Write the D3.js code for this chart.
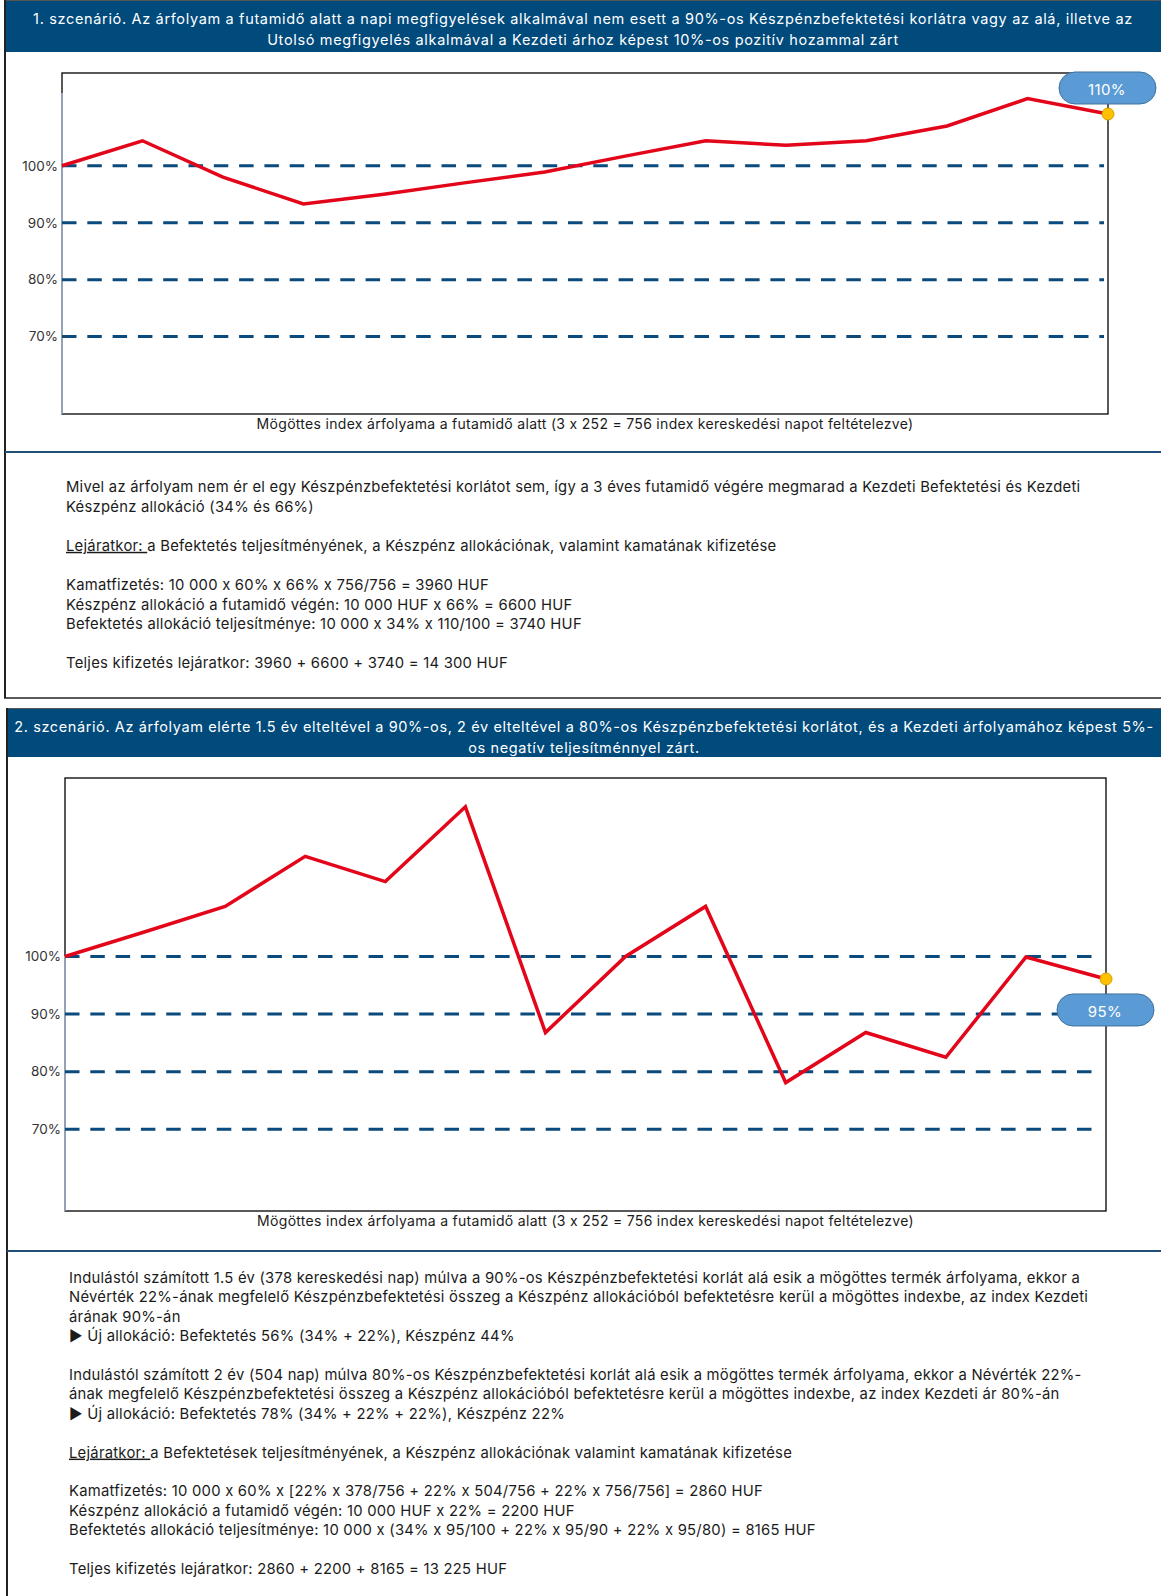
<!DOCTYPE html>
<html>
<head>
<meta charset="utf-8">
<script src="https://cdn.jsdelivr.net/npm/d3@7"></script>
<style>
  body { margin: 0; background: #fff; }
  svg text { font-family: Inter, "Noto Sans", "DejaVu Sans", sans-serif; font-feature-settings: "calt" 0; }
</style>
</head>
<body>
<div id="chart"></div>
<script>
// observation points (13 equal steps across 756 trading days)
var observations = [0, 1, 2, 3, 4, 5, 6, 7, 8, 9, 10, 11, 12, 13];
var barrierTicks = [70, 80, 90, 100];

// index level, % of initial price
var scenario1 = [100, 104.4, 98.0, 93.3, 95.0, 97.0, 98.9, 101.7, 104.4, 103.6, 104.4, 107.0, 111.8, 109.1];
var scenario2 = [100, 104.3, 108.7, 117.4, 113.0, 126.0, 86.8, 100.0, 108.7, 78.1, 86.8, 82.5, 99.9, 96.1];
var finalLabels = ["110%", "95%"];

var xTitle = "Mögöttes index árfolyama a futamidő alatt (3 x 252 = 756 index kereskedési napot feltételezve)";

var header1 = [
  "1. szcenárió. Az árfolyam a futamidő alatt a napi megfigyelések alkalmával nem esett a 90%-os Készpénzbefektetési korlátra vagy az alá, illetve az",
  "Utolsó megfigyelés alkalmával a Kezdeti árhoz képest 10%-os pozitív hozammal zárt"
];
var header2 = [
  "2. szcenárió. Az árfolyam elérte 1.5 év elteltével a 90%-os, 2 év elteltével a 80%-os Készpénzbefektetési korlátot, és a Kezdeti árfolyamához képest 5%-",
  "os negatív teljesítménnyel zárt."
];

// "_u_" marks an underlined lead-in
var body1 = [
  "Mivel az árfolyam nem ér el egy Készpénzbefektetési korlátot sem, így a 3 éves futamidő végére megmarad a Kezdeti Befektetési és Kezdeti",
  "Készpénz allokáció (34% és 66%)",
  "",
  "_u_Lejáratkor: |a Befektetés teljesítményének, a Készpénz allokációnak, valamint kamatának kifizetése",
  "",
  "Kamatfizetés: 10 000 x 60% x 66% x 756/756 = 3960 HUF",
  "Készpénz allokáció a futamidő végén: 10 000 HUF x 66% = 6600 HUF",
  "Befektetés allokáció teljesítménye: 10 000 x 34% x 110/100 = 3740 HUF",
  "",
  "Teljes kifizetés lejáratkor: 3960 + 6600 + 3740 = 14 300 HUF"
];
var body2 = [
  "Indulástól számított 1.5 év (378 kereskedési nap) múlva a 90%-os Készpénzbefektetési korlát alá esik a mögöttes termék árfolyama, ekkor a",
  "Névérték 22%-ának megfelelő Készpénzbefektetési összeg a Készpénz allokációból befektetésre kerül a mögöttes indexbe, az index Kezdeti",
  "árának 90%-án",
  "▶ Új allokáció: Befektetés 56% (34% + 22%), Készpénz 44%",
  "",
  "Indulástól számított 2 év (504 nap) múlva 80%-os Készpénzbefektetési korlát alá esik a mögöttes termék árfolyama, ekkor a Névérték 22%-",
  "ának megfelelő Készpénzbefektetési összeg a Készpénz allokációból befektetésre kerül a mögöttes indexbe, az index Kezdeti ár 80%-án",
  "▶ Új allokáció: Befektetés 78% (34% + 22% + 22%), Készpénz 22%",
  "",
  "_u_Lejáratkor: |a Befektetések teljesítményének, a Készpénz allokációnak valamint kamatának kifizetése",
  "",
  "Kamatfizetés: 10 000 x 60% x [22% x 378/756 + 22% x 504/756 + 22% x 756/756] = 2860 HUF",
  "Készpénz allokáció a futamidő végén: 10 000 HUF x 22% = 2200 HUF",
  "Befektetés allokáció teljesítménye: 10 000 x (34% x 95/100 + 22% x 95/90 + 22% x 95/80) = 8165 HUF",
  "",
  "Teljes kifizetés lejáratkor: 2860 + 2200 + 8165 = 13 225 HUF"
];

var navy = "#014a7c";

var svg = d3.select("#chart").append("svg")
    .attr("width", 1161)
    .attr("height", 1596);

// ---------- panel frames ----------
function panel(top, bottom, left, headH, sepY, lines, spacing) {
  svg.append("rect")
    .attr("x", left + 1).attr("y", top)
    .attr("width", 1161 - left).attr("height", headH)
    .attr("fill", navy);
  svg.append("line")
    .attr("x1", left).attr("x2", 1161).attr("y1", top - 0.5).attr("y2", top - 0.5)
    .attr("stroke", "#555").attr("stroke-width", 1);
  svg.append("line")
    .attr("x1", left).attr("x2", left).attr("y1", top - 1).attr("y2", bottom)
    .attr("stroke", "#222").attr("stroke-width", 2);
  svg.append("line")
    .attr("x1", left).attr("x2", 1161).attr("y1", sepY).attr("y2", sepY)
    .attr("stroke", "#1f4e79").attr("stroke-width", 2);
  svg.append("g").selectAll("text")
    .data(lines)
    .enter()
    .append("text")
    .attr("x", (left + 1161) / 2)
    .attr("y", function(d, i) { return top + 23 + i * 20.5; })
    .attr("text-anchor", "middle")
    .attr("fill", "#fff")
    .attr("font-size", 14.5)
    .attr("letter-spacing", spacing)
    .text(function(d) { return d; });
}

panel(1, 698, 5, 51, 452, header1, 0.66);
svg.append("line")
  .attr("x1", 4).attr("x2", 1161).attr("y1", 698).attr("y2", 698)
  .attr("stroke", "#222").attr("stroke-width", 1.5);
panel(709, 1596, 7, 48, 1251, header2, 0.6);

// ---------- body text ----------
function bodyText(x, y0, step, lines) {
  var t = svg.append("g").selectAll("text")
    .data(lines)
    .enter()
    .append("text")
    .attr("x", x)
    .attr("y", function(d, i) { return y0 + i * step; })
    .attr("fill", "#1b1b1b")
    .attr("font-size", 14.8)
    .attr("letter-spacing", 0.25);
  t.each(function(d) {
    var el = d3.select(this);
    if (d.indexOf("_u_") === 0) {
      var parts = d.slice(3).split("|");
      el.append("tspan").attr("text-decoration", "underline").text(parts[0]);
      el.append("tspan").text(parts[1]);
    } else {
      el.text(d);
    }
  });
}

bodyText(66, 492, 19.6, body1);
bodyText(69, 1283, 19.4, body2);

// ---------- charts ----------
function drawChart(cfg) {
  var x = d3.scaleLinear()
    .domain([observations[0], observations[observations.length - 1]])
    .range([cfg.left, cfg.right]);
  var y = d3.scaleLinear()
    .domain(cfg.domain)
    .range([cfg.bottom, cfg.top]);

  var g = svg.append("g");

  // frame
  g.append("rect")
    .attr("x", cfg.left).attr("y", cfg.top)
    .attr("width", cfg.right - cfg.left).attr("height", cfg.bottom - cfg.top)
    .attr("fill", "none").attr("stroke", "#000").attr("stroke-width", 1.3);
  g.append("line")
    .attr("x1", cfg.left).attr("x2", cfg.left)
    .attr("y1", cfg.top + cfg.blackLeft).attr("y2", cfg.bottom)
    .attr("stroke", "#a9bdd3").attr("stroke-width", 1.5);

  // y axis labels
  var axis = d3.axisLeft(y)
    .tickValues(barrierTicks)
    .tickSize(0)
    .tickPadding(4)
    .tickFormat(function(d) { return d + "%"; });
  var ag = g.append("g")
    .attr("transform", "translate(" + cfg.left + ",0)")
    .call(axis);
  ag.select(".domain").remove();
  ag.selectAll("text")
    .attr("font-size", 13.5)
    .attr("fill", "#333")
    .style("font-family", "Inter, sans-serif");

  // barrier lines
  g.selectAll(".barrier")
    .data(barrierTicks)
    .enter()
    .append("line")
    .attr("class", "barrier")
    .attr("x1", cfg.left)
    .attr("x2", cfg.right - 4)
    .attr("y1", function(d) { return y(d); })
    .attr("y2", function(d) { return y(d); })
    .attr("stroke", "#0b4a7d")
    .attr("stroke-width", 3)
    .attr("stroke-dasharray", "14.5,10.8");

  // index path
  var line = d3.line()
    .x(function(d, i) { return x(observations[i]); })
    .y(function(d) { return y(d); });
  g.append("path")
    .datum(cfg.data)
    .attr("fill", "none")
    .attr("stroke", "#e3061a")
    .attr("stroke-width", 3.5)
    .attr("stroke-linejoin", "miter")
    .attr("d", line);

  // x title
  g.append("text")
    .attr("x", (cfg.left + cfg.right) / 2)
    .attr("y", cfg.bottom + 15)
    .attr("text-anchor", "middle")
    .attr("font-size", 14)
    .attr("letter-spacing", 0.3)
    .attr("fill", "#1b1b1b")
    .text(xTitle);

  // final point + label
  var last = cfg.data.length - 1;
  var px = x(observations[last]), py = y(cfg.data[last]);
  var cy = py + cfg.labelDy;
  g.append("rect")
    .attr("x", px - 49).attr("y", cy - 16)
    .attr("width", 97).attr("height", 32)
    .attr("rx", 16).attr("ry", 16)
    .attr("fill", "#5b9bd5")
    .attr("stroke", "#41719c")
    .attr("stroke-width", 1);
  g.append("text")
    .attr("x", px - 1).attr("y", cy + 7)
    .attr("text-anchor", "middle")
    .attr("font-size", 15)
    .attr("letter-spacing", 0.4)
    .attr("fill", "#fff")
    .text(cfg.label);
  g.append("circle")
    .attr("cx", px).attr("cy", py).attr("r", 6)
    .attr("fill", "#ffc000")
    .attr("stroke", "#d39e00")
    .attr("stroke-width", 1);
}

drawChart({
  data: scenario1, label: finalLabels[0],
  left: 62, right: 1108, top: 73, bottom: 414,
  domain: [56.4, 116.3], labelDy: -26, blackLeft: 20
});
drawChart({
  data: scenario2, label: finalLabels[1],
  left: 65, right: 1106, top: 778, bottom: 1211,
  domain: [55.8, 131], labelDy: 31, blackLeft: 178
});
</script>
</body>
</html>
